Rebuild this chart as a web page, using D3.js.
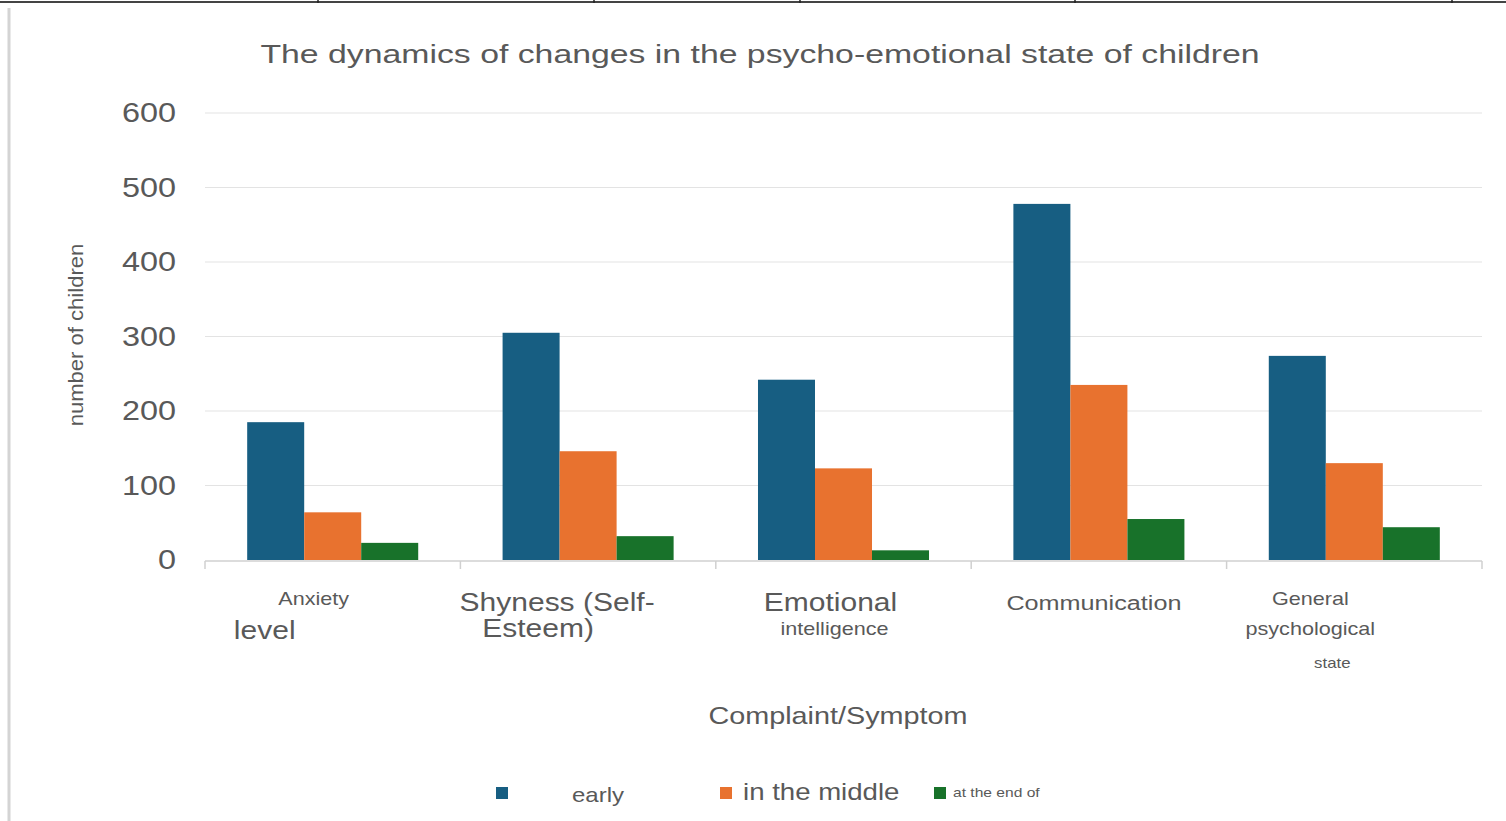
<!DOCTYPE html>
<head>
  <meta charset="utf-8">
  <style>
    body { margin: 0; background: #fff; }
    svg text { font-family: "Liberation Sans", Arial, sans-serif; fill: #595959; }
    svg .grid { stroke: #e3e3e3; stroke-width: 1px; }
  </style>
</head>
<body>
<script src="https://d3js.org/d3.v7.min.js"></script>
<script>
  // data
  var categories = ["Anxiety level", "Shyness (Self-Esteem)", "Emotional intelligence", "Communication", "General psychological state"];
  var seriesNames = ["early", "in the middle", "at the end of"];
  var early = [185, 305, 242, 478, 274];
  var middle = [64, 146, 123, 235, 130];
  var endOf = [23, 32, 13, 55, 44];
  var yTicks = [0, 100, 200, 300, 400, 500, 600];
  var colors = ["#175e82", "#e8722f", "#18722a"];

  var series = [early, middle, endOf];

  var W = 1506, H = 821;
  var plotLeft = 205, plotRight = 1482, plotTop = 113, plotBottom = 560;

  var svg = d3.select("body")
    .append("svg")
      .attr("width", W)
      .attr("height", H);

  // text helper: the original's lettering is stretched sideways
  function label(x, y, str, size, anchor, sx, rot) {
    var g = svg.append("g")
        .attr("transform", "translate(" + x + "," + y + ")" + (rot ? " rotate(" + rot + ")" : "") + " scale(" + (sx || 1.2) + ",1)");
    return g.append("text")
        .attr("text-anchor", anchor || "middle")
        .attr("dominant-baseline", "middle")
        .style("font-size", size + "px")
        .text(str);
  }

  // page frame bits (cut-off document edges)
  svg.append("line")
      .attr("x1", 0).attr("x2", W).attr("y1", 2).attr("y2", 2)
      .style("stroke", "#444").style("stroke-width", 2);
  [318, 594, 800, 1075, 1452].forEach(function (x) {
    svg.append("line")
        .attr("x1", x).attr("x2", x).attr("y1", 0).attr("y2", 3)
        .style("stroke", "#222").style("stroke-width", 1.5);
  });
  svg.append("line")
      .attr("x1", 9).attr("x2", 9).attr("y1", 8).attr("y2", H)
      .style("stroke", "#d4d4d4").style("stroke-width", 3);

  // scales
  var xScale = d3.scaleBand().domain(categories).range([plotLeft, plotRight]).paddingInner(0).paddingOuter(0);
  var xInner = d3.scaleBand().domain(seriesNames)
    .range([0, xScale.bandwidth()]).paddingOuter(0.74).paddingInner(0);
  var yScale = d3.scaleLinear().domain([0, 600]).range([plotBottom, plotTop]);

  // horizontal grid lines
  svg.append("g")
    .selectAll("line")
    .data(yTicks.slice(1))
    .enter().append("line")
      .classed("grid", true)
      .attr("x1", plotLeft).attr("x2", plotRight)
      .attr("y1", function (d) { return yScale(d); })
      .attr("y2", function (d) { return yScale(d); });

  // y axis labels
  yTicks.forEach(function (d) {
    label(176, yScale(d) + 2, String(d), 27, "end", 1.2);
  });

  // x axis line and boundary ticks
  var xa = svg.append("g");
  xa.append("line")
      .attr("x1", plotLeft).attr("x2", plotRight)
      .attr("y1", plotBottom + 1).attr("y2", plotBottom + 1)
      .style("stroke", "#d0d0d0").style("stroke-width", 1.5);
  xa.selectAll("line.tk")
    .data(categories.concat(["end"]))
    .enter().append("line")
      .attr("class", "tk")
      .attr("x1", function (d, i) { return plotLeft + i * xScale.bandwidth(); })
      .attr("x2", function (d, i) { return plotLeft + i * xScale.bandwidth(); })
      .attr("y1", plotBottom + 1).attr("y2", plotBottom + 9)
      .style("stroke", "#d0d0d0").style("stroke-width", 1.5);

  // bars
  series.forEach(function (vals, s) {
    svg.append("g")
      .selectAll("rect")
      .data(vals)
      .enter().append("rect")
        .attr("x", function (d, i) { return xScale(categories[i]) + xInner(seriesNames[s]); })
        .attr("width", xInner.bandwidth())
        .attr("y", function (d) { return yScale(d); })
        .attr("height", function (d) { return yScale(0) - yScale(d); })
        .style("fill", colors[s]);
  });

  // category labels, odd sizes as in the original
  var catLines = [
    [{ t: "Anxiety", dx: -19, y: 600, s: 18 }, { t: "level", dx: -68, y: 632, s: 25 }],
    [{ t: "Shyness (Self-", dx: -31, y: 604, s: 25 }, { t: "Esteem)", dx: -50, y: 630, s: 25 }],
    [{ t: "Emotional", dx: -13, y: 604, s: 25 }, { t: "intelligence", dx: -9, y: 630, s: 18 }],
    [{ t: "Communication", dx: -5, y: 604, s: 21 }],
    [{ t: "General", dx: -44, y: 600, s: 18 }, { t: "psychological", dx: -44, y: 630, s: 18 }, { t: "state", dx: -22, y: 664, s: 14 }]
  ];
  catLines.forEach(function (lines, i) {
    var cx = xScale(categories[i]) + xScale.bandwidth() / 2;
    lines.forEach(function (l) {
      label(cx + l.dx, l.y, l.t, l.s, "middle", 1.2);
    });
  });

  // titles
  label(760, 56, "The dynamics of changes in the psycho-emotional state of children", 26, "middle", 1.3);
  label(838, 718, "Complaint/Symptom", 24, "middle", 1.2);
  label(77, yScale(302), "number of children", 21, "middle", 1.05, -90);

  // legend
  var legend = [
    { sq: 496, tx: 572, s: 20 },
    { sq: 720, tx: 743, s: 23 },
    { sq: 934, tx: 953, s: 13 }
  ];
  legend.forEach(function (l, i) {
    svg.append("rect")
        .attr("x", l.sq).attr("y", 787)
        .attr("width", 12).attr("height", 12)
        .style("fill", colors[i]);
    label(l.tx, i === 0 ? 797 : 794, seriesNames[i], l.s, "start", 1.2);
  });
</script>
</body>
</html>
